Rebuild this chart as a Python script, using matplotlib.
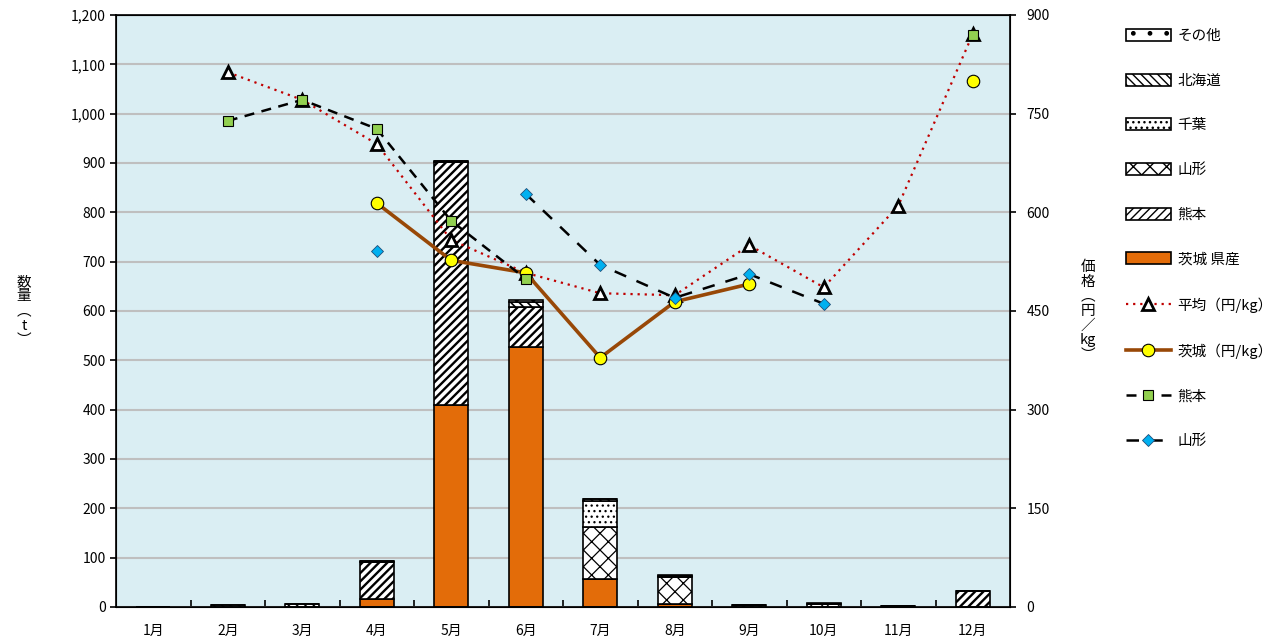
import matplotlib
matplotlib.use("Agg")
import matplotlib.pyplot as plt
import numpy as np
from matplotlib.ticker import FuncFormatter, FixedLocator

plt.rcParams['font.family'] = ['Noto Sans CJK JP', 'DejaVu Sans']
plt.rcParams['hatch.linewidth'] = 1.0

nan = np.nan
months = ['1月', '2月', '3月', '4月', '5月', '6月', '7月', '8月', '9月', '10月', '11月', '12月']

# 数量 (t)
ibaraki = [0, 0, 0, 17, 409, 527, 57, 6, 0, 0, 0, 0]
kumamoto = [0, 0, 0, 74, 493, 82, 0, 0, 5, 0, 2, 33]
yamagata = [0, 0, 0, 0, 0, 0, 105, 54, 0, 7, 0, 0]
chiba = [0, 0, 0, 0, 0, 0, 52, 0, 0, 0, 0, 0]
hokkaido = [0, 4, 7, 2, 3, 10, 4, 3, 0, 0, 0, 0]
sonota = [0, 0, 0, 0, 0, 3, 1, 2, 0, 2, 0, 0]

# 価格 (円/kg)
avg_price = [nan, 813, 771, 704, 558, 508, 477, 474, 550, 486, 610, 871]
ibaraki_price = [nan, nan, nan, 614, 527, 508, 379, 464, 491, nan, nan, 800]
kumamoto_price = [nan, 739, 771, 727, 587, 499, nan, nan, nan, nan, nan, 870]
yamagata_price = [nan, nan, nan, 541, nan, 628, 520, 470, 506, 461, nan, nan]

fig = plt.figure(figsize=(12.75, 6.42), dpi=100)
ax = fig.add_axes([116 / 1275, 1 - 607 / 642, 894 / 1275, 592 / 642])
ax.set_facecolor('#DAEEF3')
x = np.arange(len(months))
w = 0.46

# (値, 名前, 塗り, ハッチ, ハッチ線幅)
stack = [
    (ibaraki, '茨城 県産', '#E36C09', None, 1.0),
    (kumamoto, '熊本', 'white', '////', 1.7),
    (yamagata, '山形', 'white', 'xx', 0.9),
    (chiba, '千葉', 'white', '...', 0.9),
    (hokkaido, '北海道', 'white', '\\\\\\\\', 1.2),
    (sonota, 'その他', 'white', '.', 0.6),
]
bottom = np.zeros(len(months))
bar_handles = {}
for vals, name, fc, hatch, hlw in stack:
    vals = np.array(vals, dtype=float)
    b = ax.bar(x, vals, w, bottom=bottom, color=fc, edgecolor='black',
               linewidth=1.2, hatch=hatch, label=name, zorder=2)
    for p in b.patches:
        if hasattr(p, 'set_hatch_linewidth'):
            p.set_hatch_linewidth(hlw)
    bar_handles[name] = b
    bottom += vals

ax.set_xlim(-0.5, len(months) - 0.5)
ax.set_ylim(0, 1200)
ax.set_yticks(np.arange(0, 1201, 100))
ax.yaxis.set_major_formatter(FuncFormatter(lambda v, p: f'{int(v):,}'))
ax.grid(axis='y', color='#BFBFBF', linewidth=1.5, zorder=0)
ax.set_axisbelow(True)
ax.set_xticks(x)
ax.set_xticklabels(months, fontsize=10)
ax.tick_params(axis='x', length=0, pad=12)
ax.xaxis.set_minor_locator(FixedLocator(np.arange(0.5, len(months) - 1, 1)))
ax.tick_params(axis='x', which='minor', direction='in', length=5, width=1.2)
ax.tick_params(axis='y', direction='out', length=4, labelsize=10, width=1.2)
for s in ax.spines.values():
    s.set_linewidth(1.2)

ax2 = ax.twinx()
ax2.set_ylim(0, 900)
ax2.set_yticks(np.arange(0, 901, 150))
ax2.tick_params(axis='y', direction='out', length=4, labelsize=10, width=1.2, pad=8)

l_avg, = ax2.plot(x, avg_price, linestyle=(0, (1, 2.2)), color='#C00000', linewidth=1.6,
                  marker='^', markersize=8, markerfacecolor='white',
                  markeredgecolor='black', markeredgewidth=2, label='平均（円/kg）', zorder=4)
l_iba, = ax2.plot(x, ibaraki_price, '-', color='#984807', linewidth=2.6,
                  marker='o', markersize=9, markerfacecolor='#FFFF00',
                  markeredgecolor='black', markeredgewidth=0.8, label='茨城（円/kg）', zorder=5)
l_kum, = ax2.plot(x, kumamoto_price, color='black', linewidth=1.8, dashes=(4, 3),
                  marker='s', markersize=7.5, markerfacecolor='#92D050',
                  markeredgecolor='black', markeredgewidth=0.8, label='熊本', zorder=6)
l_yam, = ax2.plot(x, yamagata_price, color='black', linewidth=1.8, dashes=(5, 4.5),
                  marker='D', markersize=6, markerfacecolor='#00B0F0',
                  markeredgecolor='#1F4E79', markeredgewidth=0.6, label='山形', zorder=6)

ax.text(-0.103, 0.5, '数\n量\n︵\nt\n︶', transform=ax.transAxes, ha='center', va='center',
        fontsize=10.5, linespacing=1.05)
ax2.text(1.087, 0.5, '価\n格\n︵\n円\n／\nkg\n︶', transform=ax2.transAxes, ha='center',
         va='center', fontsize=10.5, linespacing=1.05)

handles = [bar_handles['その他'], bar_handles['北海道'], bar_handles['千葉'],
           bar_handles['山形'], bar_handles['熊本'], bar_handles['茨城 県産'],
           l_avg, l_iba, l_kum, l_yam]
labels = ['その他', '北海道', '千葉', '山形', '熊本', '茨城 県産',
          '平均（円/kg）', '茨城（円/kg）', '熊本', '山形']
fig.legend(handles, labels, loc='upper left', bbox_to_anchor=(1120 / 1275, 1 - 23 / 642),
           frameon=False, fontsize=10.5, labelspacing=2.1, handlelength=3.1,
           handleheight=0.9, handletextpad=0.45, borderaxespad=0)

fig.savefig('out.png', dpi=100)
